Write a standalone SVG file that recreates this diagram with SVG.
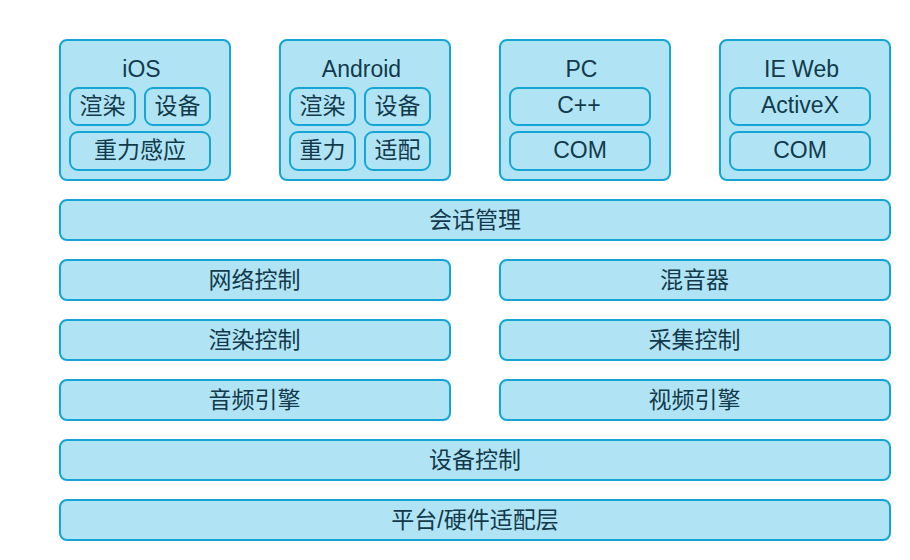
<svg xmlns="http://www.w3.org/2000/svg" width="910" height="560" viewBox="0 0 910 560">
<style>
rect{fill:#b0e4f4;stroke:#14a5d6;stroke-width:2}
text{font-family:"Liberation Sans","Noto Sans CJK SC",sans-serif;font-size:23px;fill:#123a4c;text-anchor:middle;dominant-baseline:central}
</style>
<rect x="0" y="0" width="910" height="560" style="fill:#fff;stroke:none"/>
<g id="ios">
<rect x="60" y="40" width="170" height="140" rx="7"/>
<text x="141.5" y="69">iOS</text>
<g id="ios-render"><rect x="70" y="88" width="65" height="37" rx="8"/><text x="102.5" y="105.5">渲染</text></g>
<g id="ios-device"><rect x="145" y="88" width="65" height="37" rx="8"/><text x="177.5" y="105.5">设备</text></g>
<g id="ios-gravity"><rect x="70" y="132" width="140" height="38" rx="8"/><text x="140" y="150">重力感应</text></g>
</g>
<g id="android">
<rect x="280" y="40" width="170" height="140" rx="7"/>
<text x="361.5" y="69">Android</text>
<g id="and-render"><rect x="290" y="88" width="65" height="37" rx="8"/><text x="322.5" y="105.5">渲染</text></g>
<g id="and-device"><rect x="365" y="88" width="65" height="37" rx="8"/><text x="397.5" y="105.5">设备</text></g>
<g id="and-gravity"><rect x="290" y="132" width="65" height="38" rx="8"/><text x="322.5" y="150">重力</text></g>
<g id="and-adapt"><rect x="365" y="132" width="65" height="38" rx="8"/><text x="397.5" y="150">适配</text></g>
</g>
<g id="pc">
<rect x="500" y="40" width="170" height="140" rx="7"/>
<text x="581.5" y="69">PC</text>
<g id="pc-cpp"><rect x="510" y="88" width="140" height="37" rx="8"/><text x="579" y="105">C++</text></g>
<g id="pc-com"><rect x="510" y="132" width="140" height="38" rx="8"/><text x="580" y="150">COM</text></g>
</g>
<g id="ieweb">
<rect x="720" y="40" width="170" height="140" rx="7"/>
<text x="801.5" y="69">IE Web</text>
<g id="ie-activex"><rect x="730" y="88" width="140" height="37" rx="8"/><text x="800" y="105">ActiveX</text></g>
<g id="ie-com"><rect x="730" y="132" width="140" height="38" rx="8"/><text x="800" y="150">COM</text></g>
</g>
<g id="session"><rect x="60" y="200" width="830" height="40" rx="7"/><text x="475" y="219.5">会话管理</text></g>
<g id="network"><rect x="60" y="260" width="390" height="40" rx="7"/><text x="254.5" y="279.5">网络控制</text></g>
<g id="mixer"><rect x="500" y="260" width="390" height="40" rx="7"/><text x="694.5" y="279.5">混音器</text></g>
<g id="render-ctrl"><rect x="60" y="320" width="390" height="40" rx="7"/><text x="254.5" y="339.5">渲染控制</text></g>
<g id="capture-ctrl"><rect x="500" y="320" width="390" height="40" rx="7"/><text x="694.5" y="339.5">采集控制</text></g>
<g id="audio-engine"><rect x="60" y="380" width="390" height="40" rx="7"/><text x="254.5" y="399.5">音频引擎</text></g>
<g id="video-engine"><rect x="500" y="380" width="390" height="40" rx="7"/><text x="694.5" y="399.5">视频引擎</text></g>
<g id="device-ctrl"><rect x="60" y="440" width="830" height="40" rx="7"/><text x="475" y="459.5">设备控制</text></g>
<g id="platform"><rect x="60" y="500" width="830" height="40" rx="7"/><text x="475" y="519.5">平台/硬件适配层</text></g>
<g id="connectors"/>
</svg>
